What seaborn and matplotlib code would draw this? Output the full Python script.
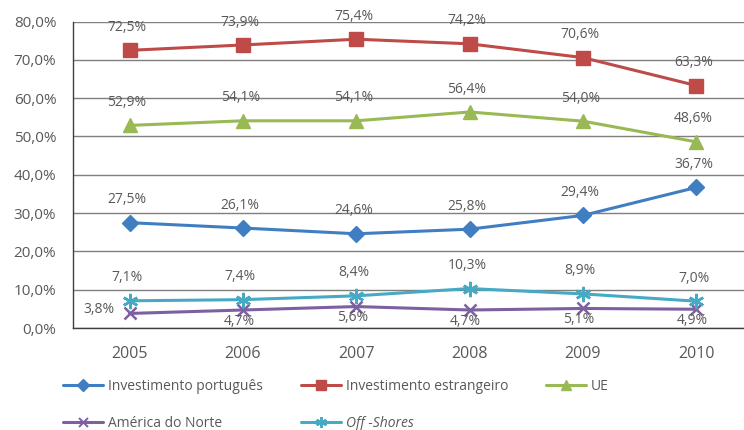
import matplotlib
matplotlib.use("Agg")
import matplotlib.pyplot as plt
from matplotlib.lines import Line2D
from matplotlib.ticker import FixedLocator, FuncFormatter
import seaborn as sns
import pandas as pd

years = ["2005", "2006", "2007", "2008", "2009", "2010"]
investimento_portugues = [27.5, 26.1, 24.6, 25.8, 29.4, 36.7]
investimento_estrangeiro = [72.5, 73.9, 75.4, 74.2, 70.6, 63.3]
ue = [52.9, 54.1, 54.1, 56.4, 54.0, 48.6]
america_norte = [3.8, 4.7, 5.6, 4.7, 5.1, 4.9]
off_shores = [7.1, 7.4, 8.4, 10.3, 8.9, 7.0]

series = [
    ("Investimento português", investimento_portugues, "#3F7FC1", "D", 8.5),
    ("Investimento estrangeiro", investimento_estrangeiro, "#BE4B48", "s", 10),
    ("UE", ue, "#98B954", "^", 9.5),
    ("América do Norte", america_norte, "#7D60A0", "x", 9),
    ("Off -Shores", off_shores, "#46AAC5", (6, 2, 0), 11),
]

sns.set_style("white")
plt.rcParams["font.family"] = ["Open Sans", "DejaVu Sans"]
grey = "#595959"

fig = plt.figure(figsize=(7.44, 4.30), dpi=100)
ax = fig.add_axes([73 / 744, 102 / 430, 680 / 744, 306.4 / 430])

pos = list(range(len(years)))
handles = []
for name, vals, color, marker, ms in series:
    df = pd.DataFrame({"pos": pos, "value": vals})
    thin = marker in ("x", (6, 2, 0))
    sns.lineplot(data=df, x="pos", y="value", ax=ax, color=color, lw=2.2,
                 marker=marker, markersize=ms, markeredgecolor=color,
                 markeredgewidth=1.8 if thin else 1, zorder=3)
    handles.append(Line2D([], [], color=color, lw=2.2, marker=marker,
                          markersize=ms * 0.72, markeredgecolor=color,
                          markeredgewidth=1.4 if thin else 1, label=name))

    for i, v in enumerate(vals):
        txt = f"{v:.1f}%".replace(".", ",")
        if name == "América do Norte":
            if i == 0:
                ax.annotate(txt, (i, v), xytext=(-11, 3), textcoords="offset points",
                            ha="right", va="center", fontsize=10, color=grey)
            else:
                ax.annotate(txt, (i, v), xytext=(-3, -8), textcoords="offset points",
                            ha="center", va="center", fontsize=10, color=grey)
        else:
            ax.annotate(txt, (i, v), xytext=(-2, 16.5), textcoords="offset points",
                        ha="center", va="center", fontsize=10, color=grey)

ax.set_xlim(-0.5, 5.5)
ax.set_ylim(0, 80)
ax.set_yticks(range(0, 81, 10))
ax.yaxis.set_major_formatter(FuncFormatter(lambda y, _: f"{y:.1f}%".replace(".", ",")))
ax.yaxis.grid(True, color="#7F7F7F", lw=1)
ax.set_axisbelow(True)

ax.xaxis.set_major_locator(FixedLocator([p + 0.5 for p in pos]))
ax.xaxis.set_major_formatter(FuncFormatter(lambda x, _: ""))
ax.xaxis.set_minor_locator(FixedLocator(pos))
ax.set_xticklabels(years, minor=True)
ax.tick_params(axis="x", which="major", direction="out", length=5, width=1, color="#404040")
ax.tick_params(axis="x", which="minor", length=0, pad=13, labelsize=11.5, labelcolor=grey)
ax.tick_params(axis="y", direction="out", length=5, width=1, color="#404040",
               pad=7, labelsize=11, labelcolor=grey)
ax.set_xlabel("")
ax.set_ylabel("")

for s in ["top", "right"]:
    ax.spines[s].set_visible(False)
for s in ["left", "bottom"]:
    ax.spines[s].set_color("#404040")
    ax.spines[s].set_linewidth(1)

order = [0, 3, 1, 4, 2]
leg = fig.legend([handles[i] for i in order], [handles[i].get_label() for i in order],
                 ncol=3, loc="upper left", bbox_to_anchor=(63 / 744, 1 - 379 / 430),
                 frameon=False, fontsize=10, handlelength=2.9, handletextpad=0.35,
                 labelspacing=1.55, columnspacing=2.7, borderpad=0, borderaxespad=0)
for t in leg.get_texts():
    t.set_color(grey)
    if t.get_text().startswith("Off"):
        t.set_fontstyle("italic")

fig.savefig("out.png", dpi=100)
